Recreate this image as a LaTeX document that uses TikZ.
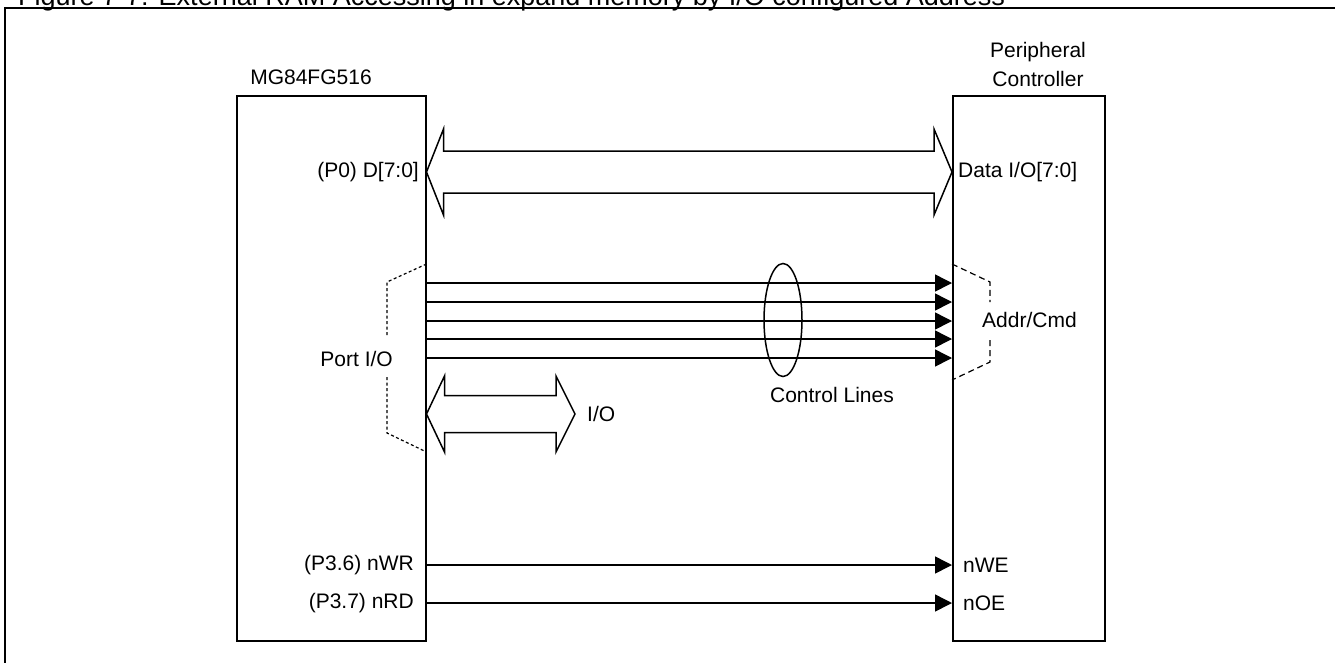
\documentclass[tikz,border=0pt]{standalone}
\usepackage{fontspec}
\setmainfont{Liberation Sans}
\usetikzlibrary{arrows.meta,calc,shapes.geometric}
\begin{document}
\begin{tikzpicture}[x=1pt,y=-1pt,
  lbl/.style={inner sep=0pt, font=\fontsize{21}{25}\selectfont},
  hdr/.style={inner sep=0pt, font=\fontsize{21}{29}\selectfont},
  chip/.style={draw, line width=1.5pt, inner sep=0pt, anchor=north west},
  sig/.style={line width=1.5pt, -{Triangle[length=17pt,width=17pt]}},
  fat/.style={line width=1.5pt, line join=miter, fill=white},
  brk/.style={line width=1.2pt},
]
\useasboundingbox (0,0) rectangle (1335,662);
\clip (0,0) rectangle (1335,662);
\fill[white] (0,0) rectangle (1335,662);

% caption (cut off by the top edge)
\node[anchor=base west, inner sep=0pt, font=\fontsize{27}{30}\selectfont] (title) at (18,5)
  {Figure 7-7: External RAM Accessing in expand memory by I/O configured Address};
% outer frame
\draw[line width=2pt] (4.5,700) -- (4.5,8) -- (1400,8);

% boxes
\node[chip, minimum width=189pt, minimum height=545pt] (mcu) at (236,95) {};
\node[chip, minimum width=152pt, minimum height=545pt] (per) at (952,95) {};
\node[hdr] (mcuname) at (311,77) {MG84FG516};
\node[hdr, align=center] (pername) at (1038,64) {Peripheral\\Controller};

% data bus
\coordinate (yd) at (0,172);
\coordinate (dl) at (mcu.east |- yd);
\coordinate (dr) at (per.west |- yd);
\draw[fat] (dl) -- ++(17,-43) -- ++(0,22) -- ($(dr)+(-18,-21)$) -- ++(0,-22) -- (dr)
  -- ++(-18,43) -- ++(0,-22) -- ($(dl)+(17,21)$) -- ++(0,22) -- cycle;
\node[lbl, anchor=east] (d0) at (419,172) {(P0) D[7:0]};
\node[lbl, anchor=west] (dio) at (958,172) {Data I/O[7:0]};

% control lines
\foreach \yy [count=\i] in {283,302,321,339,358} {
  \coordinate (cy\i) at (0,\yy);
  \draw[sig] (mcu.east |- cy\i) -- (per.west |- cy\i);
}
\node[draw, ellipse, line width=1.5pt, minimum width=38pt, minimum height=113pt, inner sep=0pt] (ell) at (783,320) {};
\node[lbl] (ctl) at (832,395) {Control Lines};

% port I/O bracket
\coordinate (p1) at (0,264);
\coordinate (p2) at (0,452);
\draw[brk, dash pattern=on 3pt off 2.5pt] (mcu.east |- p1) -- (387,282) -- (387,337);
\draw[brk, dash pattern=on 3pt off 2.5pt] (387,377) -- (387,433) -- (mcu.east |- p2);
\node[lbl, anchor=east] (pio) at (393,359) {Port I/O};

% Addr/Cmd bracket
\coordinate (a1) at (0,264);
\coordinate (a2) at (0,380);
\draw[brk, dash pattern=on 6pt off 4pt] (per.west |- a1) -- (990,282) -- (990,302);
\draw[brk, dash pattern=on 6pt off 4pt] (990,340) -- (990,362) -- (per.west |- a2);
\node[lbl, anchor=west] (adr) at (982,320) {Addr/Cmd};

% I/O double arrow
\coordinate (yi) at (0,414);
\coordinate (il) at (mcu.east |- yi);
\coordinate (ir) at (575,414);
\draw[fat] (il) -- ++(18,-38) -- ++(0,19.5) -- ($(ir)+(-19,-18.5)$) -- ++(0,-19.5) -- (ir)
  -- ++(-19,38) -- ++(0,-19.5) -- ($(il)+(18,18.5)$) -- ++(0,19.5) -- cycle;
\node[lbl, anchor=west] (io) at (587,414) {I/O};

% strobes
\coordinate (yw) at (0,565);
\coordinate (yr) at (0,603);
\draw[sig] (mcu.east |- yw) -- (per.west |- yw);
\draw[sig] (mcu.east |- yr) -- (per.west |- yr);
\node[lbl, anchor=east] (nwr) at (414,565) {(P3.6) nWR};
\node[lbl, anchor=east] (nrd) at (414,603) {(P3.7) nRD};
\node[lbl, anchor=west] (nwe) at (963,565) {nWE};
\node[lbl, anchor=west] (noe) at (963,603) {nOE};
\end{tikzpicture}
\end{document}
